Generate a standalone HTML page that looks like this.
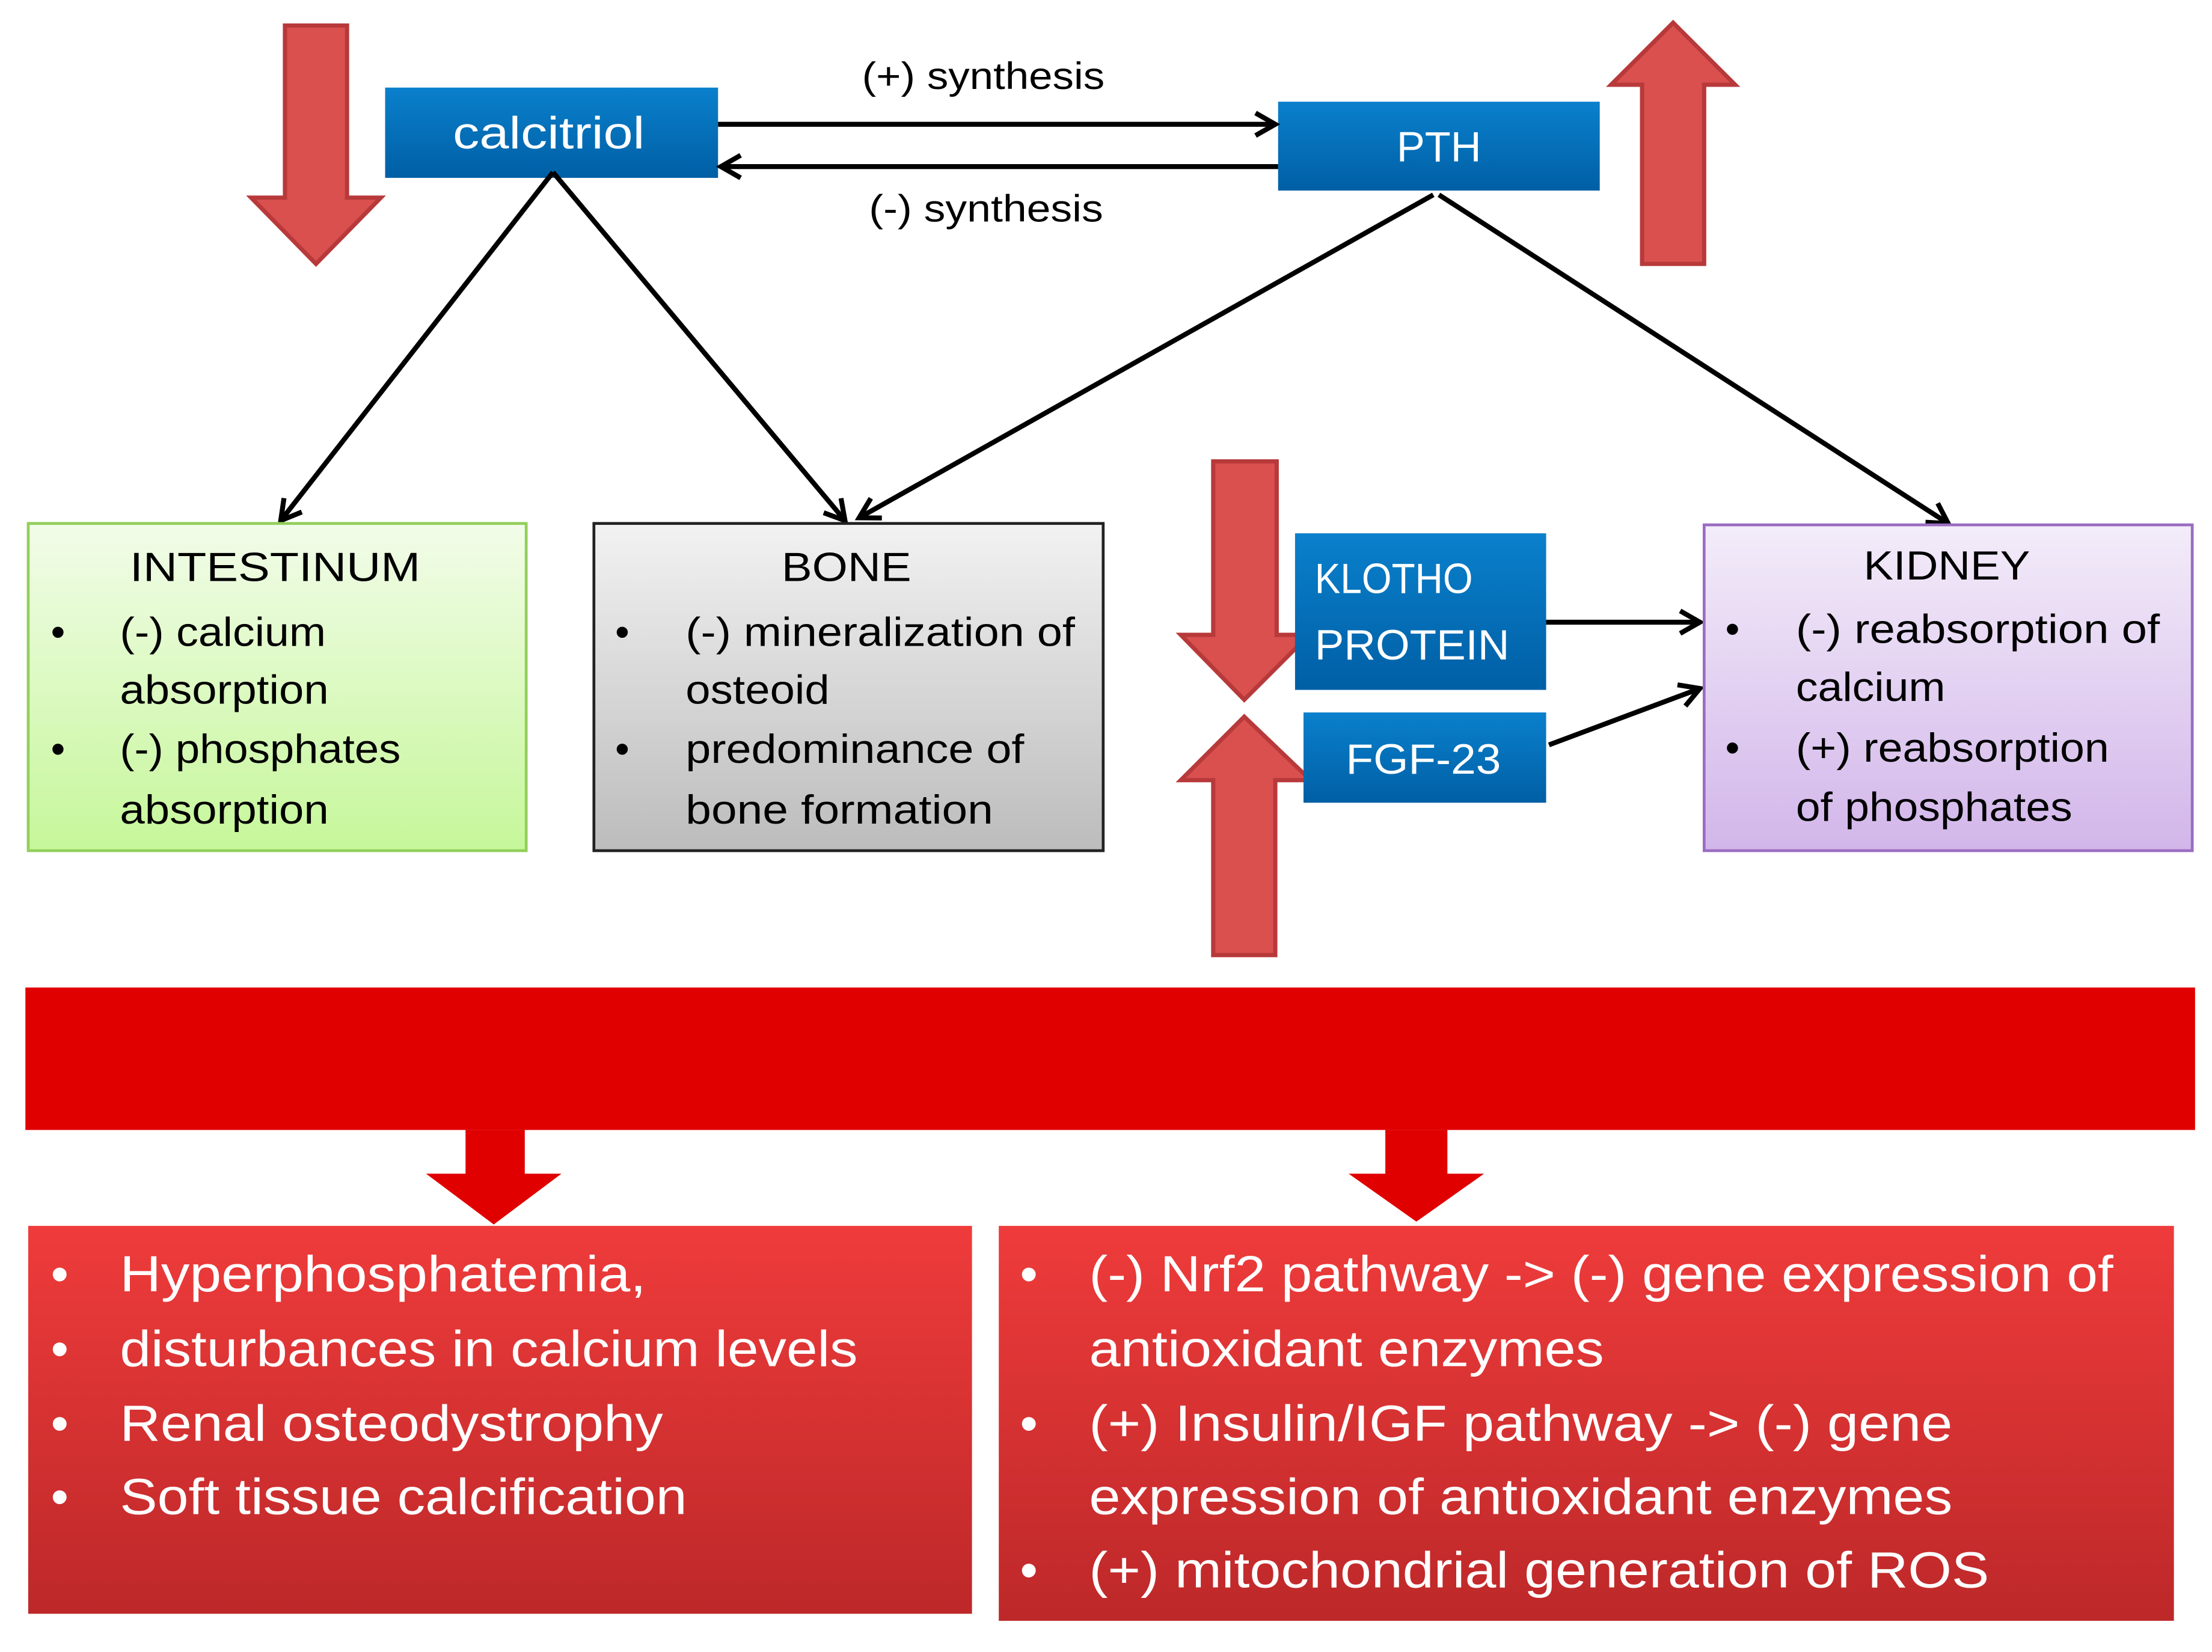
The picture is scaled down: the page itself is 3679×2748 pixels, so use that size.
<!DOCTYPE html>
<html><head><meta charset="utf-8"><style>html,body{margin:0;padding:0;background:#fff}svg{display:block}text{font-family:"Liberation Sans",sans-serif}</style></head><body>
<svg width="3679" height="2748" viewBox="0 0 1568 1171" xmlns="http://www.w3.org/2000/svg">
<defs>
<linearGradient id="bl" x1="0" y1="0" x2="0" y2="1"><stop offset="0" stop-color="#0a80cc"/><stop offset="1" stop-color="#005fa5"/></linearGradient>
<linearGradient id="gr" x1="0" y1="0" x2="0" y2="1"><stop offset="0" stop-color="#f2fce9"/><stop offset="1" stop-color="#c6f79a"/></linearGradient>
<linearGradient id="gy" x1="0" y1="0" x2="0" y2="1"><stop offset="0" stop-color="#f2f2f2"/><stop offset="1" stop-color="#bcbcbc"/></linearGradient>
<linearGradient id="pu" x1="0" y1="0" x2="0" y2="1"><stop offset="0" stop-color="#f3ecf9"/><stop offset="1" stop-color="#d2b6ea"/></linearGradient>
<linearGradient id="rd" x1="0" y1="0" x2="0" y2="1"><stop offset="0" stop-color="#ef3b3b"/><stop offset="1" stop-color="#bd2829"/></linearGradient>
<marker id="ah2" markerWidth="22" markerHeight="22" refX="18" refY="11" orient="auto" markerUnits="userSpaceOnUse" viewBox="0 0 22 22"><path d="M4,3 L18,11 L4,19" fill="none" stroke="#000" stroke-width="3.5"/></marker>
</defs>
<g fill="#d9504f" stroke="#b8393a" stroke-width="3">
<path d="M202,18 H246 V140 H270 L224,187 L178,140 H202 Z"/>
<path d="M1186,16 L1230,60 H1208 V187 H1164 V60 H1142 Z"/>
<path d="M860,327 H905 V450 H928 L882,496 L837,450 H860 Z"/>
<path d="M882,508 L929,553 H904 V677 H860 V553 H837 Z"/>
</g>
<g lengthAdjust="spacingAndGlyphs">
<rect x="273" y="62" width="236" height="64" fill="url(#bl)"/>
<text x="389" y="94" font-size="32" fill="#fff" text-anchor="middle" dominant-baseline="central" textLength="136" lengthAdjust="spacingAndGlyphs">calcitriol</text>
<rect x="906" y="72" width="228" height="63" fill="url(#bl)"/>
<text x="1020" y="104" font-size="30" fill="#fff" text-anchor="middle" dominant-baseline="central">PTH</text>
<rect x="918" y="378" width="178" height="111" fill="url(#bl)"/>
<text x="932" y="410" font-size="30" fill="#fff" dominant-baseline="central" textLength="112" lengthAdjust="spacingAndGlyphs">KLOTHO</text>
<text x="932" y="457" font-size="30" fill="#fff" dominant-baseline="central" textLength="138" lengthAdjust="spacingAndGlyphs">PROTEIN</text>
<rect x="924" y="505" width="172" height="64" fill="url(#bl)"/>
<text x="1009" y="538" font-size="30" fill="#fff" text-anchor="middle" dominant-baseline="central" textLength="110" lengthAdjust="spacingAndGlyphs">FGF-23</text>
</g>
<g stroke="#000" stroke-width="3.5" fill="none">
<line x1="509" y1="88" x2="904" y2="88" marker-end="url(#ah2)"/>
<line x1="906" y1="118" x2="511" y2="118" marker-end="url(#ah2)"/>
<line x1="392" y1="122" x2="199" y2="369" marker-end="url(#ah2)"/>
<line x1="392" y1="122" x2="599" y2="369" marker-end="url(#ah2)"/>
<line x1="1016" y1="138" x2="609" y2="367" marker-end="url(#ah2)"/>
<line x1="1020" y1="138" x2="1381" y2="371" marker-end="url(#ah2)"/>
<line x1="1096" y1="441" x2="1205" y2="441" marker-end="url(#ah2)"/>
<line x1="1098" y1="528" x2="1205" y2="488" marker-end="url(#ah2)"/>
</g>
<text x="697" y="54" font-size="27" fill="#000" text-anchor="middle" dominant-baseline="central" textLength="172" lengthAdjust="spacingAndGlyphs">(+) synthesis</text>
<text x="699" y="148" font-size="27" fill="#000" text-anchor="middle" dominant-baseline="central" textLength="166" lengthAdjust="spacingAndGlyphs">(-) synthesis</text>
<rect x="20" y="371" width="353" height="232" fill="url(#gr)" stroke="#92cf5a" stroke-width="2"/>
<g font-size="29" fill="#000" dominant-baseline="central">
<text x="195" y="402" text-anchor="middle" textLength="206" lengthAdjust="spacingAndGlyphs">INTESTINUM</text>
<text x="36" y="448">•</text><text x="85" y="448" textLength="146" lengthAdjust="spacingAndGlyphs">(-) calcium</text>
<text x="85" y="489" textLength="148" lengthAdjust="spacingAndGlyphs">absorption</text>
<text x="36" y="531">•</text><text x="85" y="531" textLength="199" lengthAdjust="spacingAndGlyphs">(-) phosphates</text>
<text x="85" y="574" textLength="148" lengthAdjust="spacingAndGlyphs">absorption</text>
</g>
<rect x="421" y="371" width="361" height="232" fill="url(#gy)" stroke="#222" stroke-width="2"/>
<g font-size="29" fill="#000" dominant-baseline="central">
<text x="600" y="402" text-anchor="middle" textLength="92" lengthAdjust="spacingAndGlyphs">BONE</text>
<text x="436" y="448">•</text><text x="486" y="448" textLength="276" lengthAdjust="spacingAndGlyphs">(-) mineralization of</text>
<text x="486" y="489" textLength="102" lengthAdjust="spacingAndGlyphs">osteoid</text>
<text x="436" y="531">•</text><text x="486" y="531" textLength="240" lengthAdjust="spacingAndGlyphs">predominance of</text>
<text x="486" y="574" textLength="218" lengthAdjust="spacingAndGlyphs">bone formation</text>
</g>
<rect x="1208" y="372" width="346" height="231" fill="url(#pu)" stroke="#9a6cc2" stroke-width="2"/>
<g font-size="29" fill="#000" dominant-baseline="central">
<text x="1380" y="401" text-anchor="middle" textLength="118" lengthAdjust="spacingAndGlyphs">KIDNEY</text>
<text x="1223" y="446">•</text><text x="1273" y="446" textLength="258" lengthAdjust="spacingAndGlyphs">(-) reabsorption of</text>
<text x="1273" y="487" textLength="106" lengthAdjust="spacingAndGlyphs">calcium</text>
<text x="1223" y="530">•</text><text x="1273" y="530" textLength="222" lengthAdjust="spacingAndGlyphs">(+) reabsorption</text>
<text x="1273" y="572" textLength="196" lengthAdjust="spacingAndGlyphs">of phosphates</text>
</g>
<rect x="18" y="700" width="1538" height="101" fill="#e00000"/>
<path d="M330,801 H372 V832 H398 L350,868 L302,832 H330 Z" fill="#e00000"/>
<path d="M982,801 H1026 V832 H1052 L1004,866 L956,832 H982 Z" fill="#e00000"/>
<rect x="20" y="869" width="669" height="275" fill="url(#rd)"/>
<g font-size="36" fill="#fff" dominant-baseline="central">
<text x="36" y="903">•</text><text x="85" y="903" textLength="373" lengthAdjust="spacingAndGlyphs">Hyperphosphatemia,</text>
<text x="36" y="956">•</text><text x="85" y="956" textLength="523" lengthAdjust="spacingAndGlyphs">disturbances in calcium levels</text>
<text x="36" y="1009">•</text><text x="85" y="1009" textLength="385" lengthAdjust="spacingAndGlyphs">Renal osteodystrophy</text>
<text x="36" y="1061">•</text><text x="85" y="1061" textLength="402" lengthAdjust="spacingAndGlyphs">Soft tissue calcification</text>
</g>
<rect x="708" y="869" width="833" height="280" fill="url(#rd)"/>
<g font-size="36" fill="#fff" dominant-baseline="central">
<text x="723" y="903">•</text><text x="772" y="903" textLength="726" lengthAdjust="spacingAndGlyphs">(-) Nrf2 pathway -&gt; (-) gene expression of</text>
<text x="772" y="956" textLength="365" lengthAdjust="spacingAndGlyphs">antioxidant enzymes</text>
<text x="723" y="1009">•</text><text x="772" y="1009" textLength="612" lengthAdjust="spacingAndGlyphs">(+) Insulin/IGF pathway  -&gt; (-) gene</text>
<text x="772" y="1061" textLength="612" lengthAdjust="spacingAndGlyphs">expression of antioxidant enzymes</text>
<text x="723" y="1113">•</text><text x="772" y="1113" textLength="638" lengthAdjust="spacingAndGlyphs">(+) mitochondrial generation of ROS</text>
</g>
</svg>
</body></html>
